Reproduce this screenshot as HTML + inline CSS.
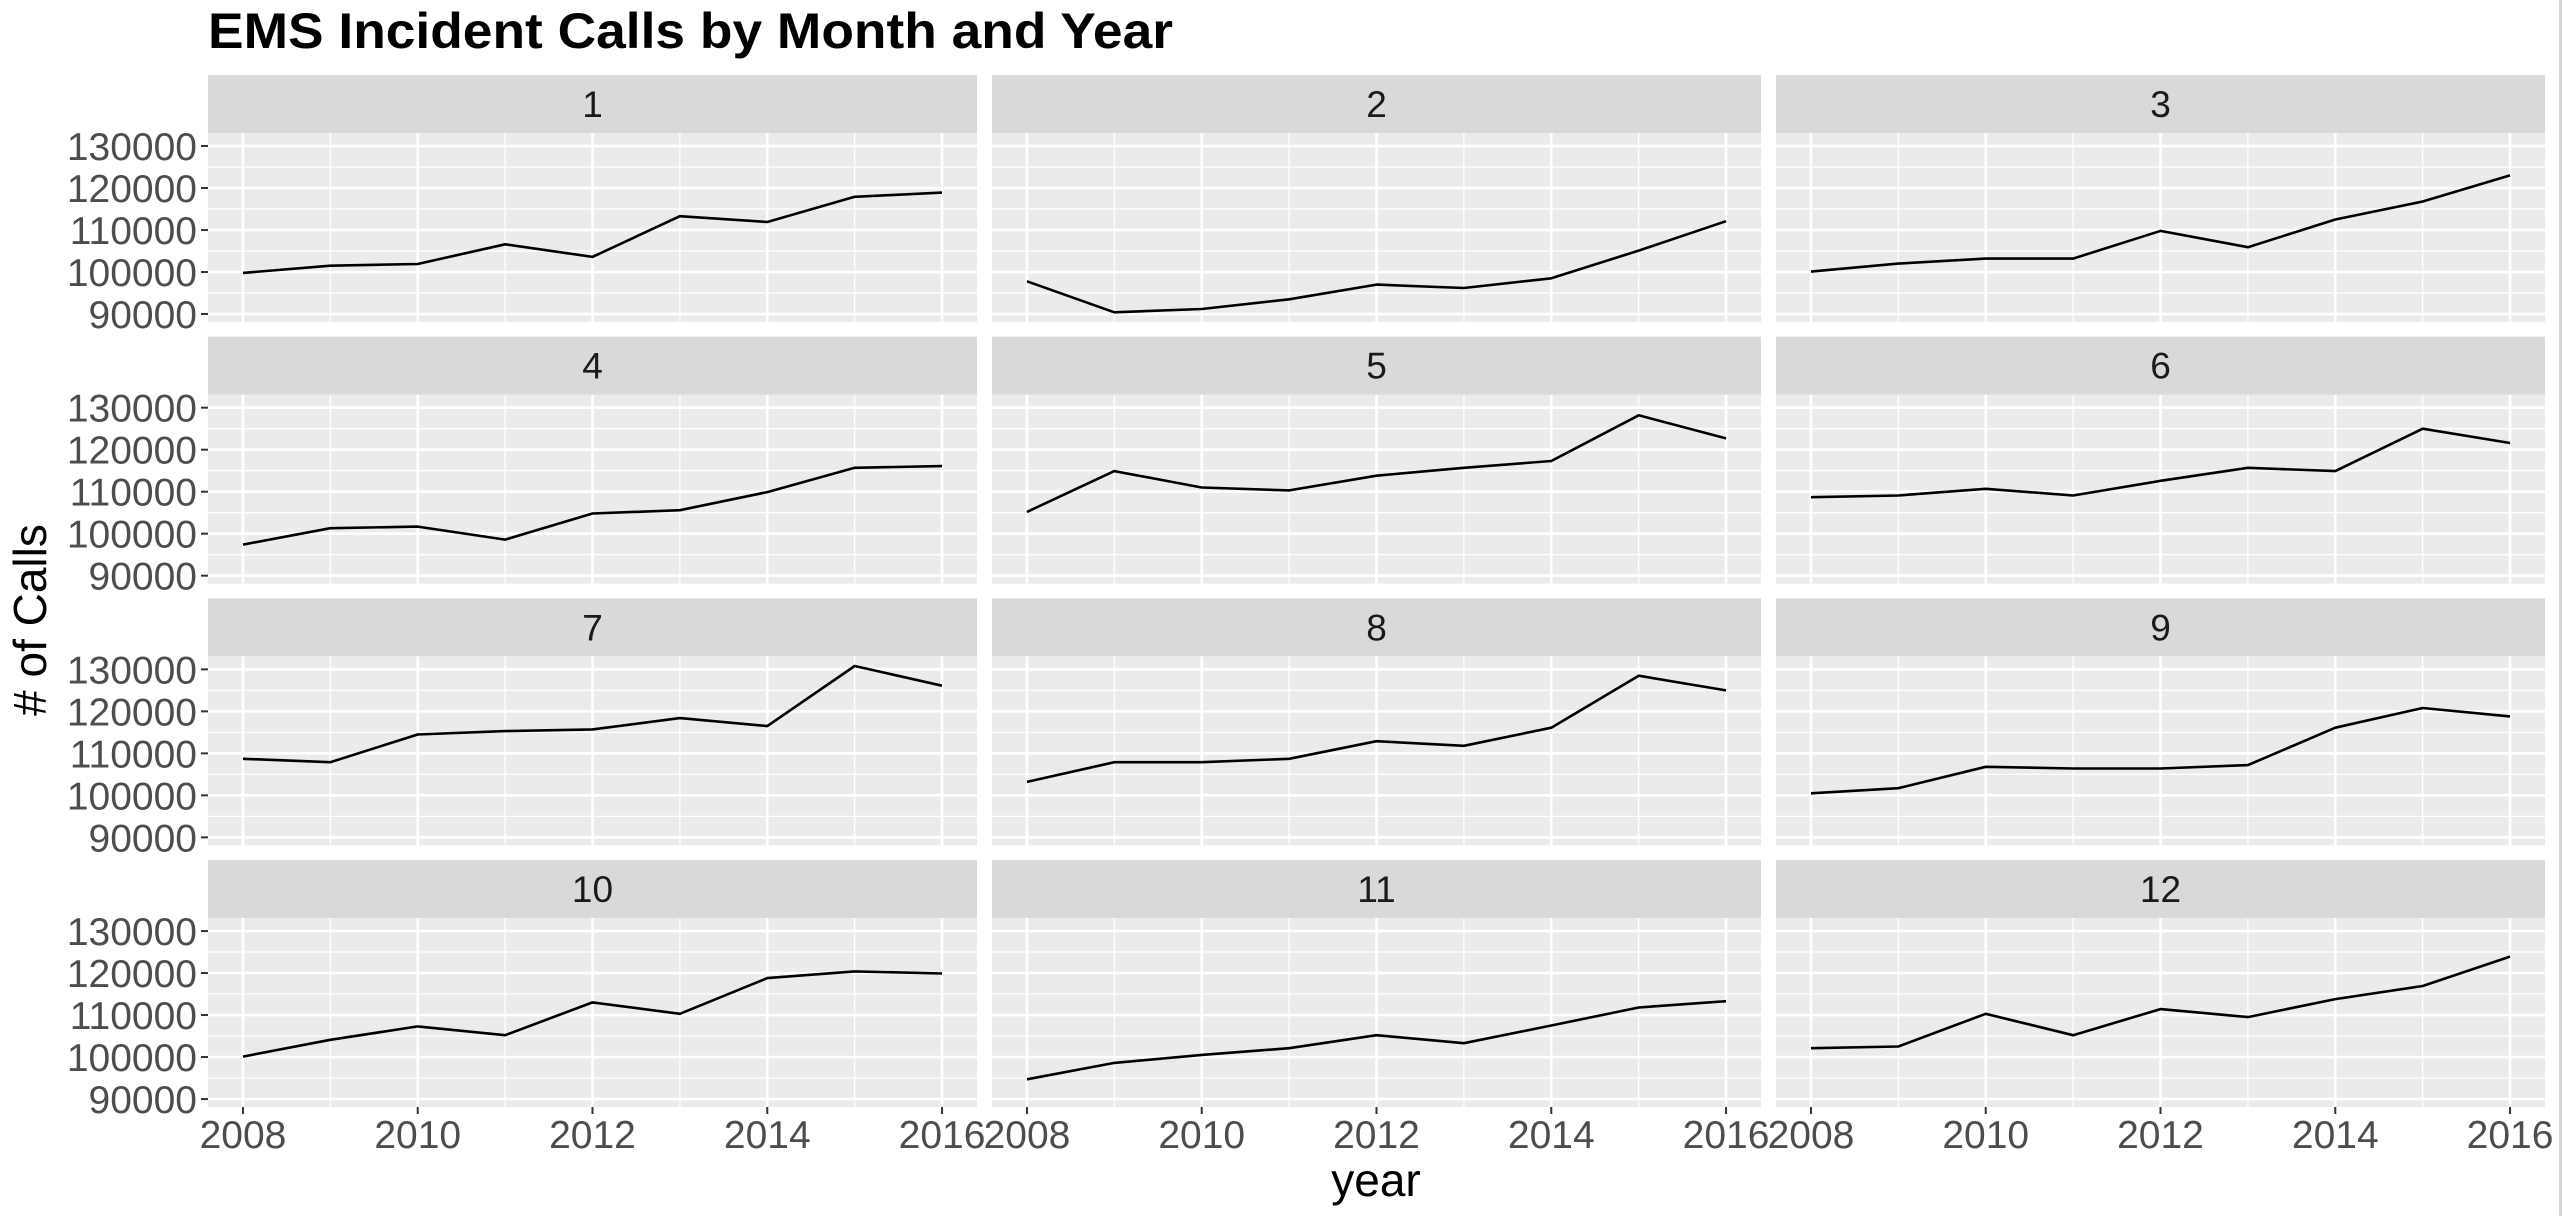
<!DOCTYPE html>
<html><head><meta charset="utf-8"><style>
html,body{margin:0;padding:0;background:#fff;}
svg{display:block;font-family:"Liberation Sans",Arial,sans-serif;}
</style></head><body>
<svg id="chart" width="2564" height="1216" viewBox="0 0 2564 1216" xmlns="http://www.w3.org/2000/svg">
<rect x="2559" y="0" width="3" height="1216" fill="#d3d6da"/>
<text x="208" y="48" font-size="50" font-weight="bold" fill="#000" textLength="965" lengthAdjust="spacingAndGlyphs">EMS Incident Calls by Month and Year</text>
<text x="1376" y="1196" font-size="46" text-anchor="middle" fill="#000">year</text>
<text transform="translate(46,620) rotate(-90)" font-size="46" text-anchor="middle" fill="#000"># of Calls</text>
<g id="panels"></g>
</svg>
<script>
const years = [2008,2009,2010,2011,2012,2013,2014,2015,2016];
const months = ["1","2","3","4","5","6","7","8","9","10","11","12"];
const m1 = [99800,101500,101900,106600,103600,113300,111900,117900,118900];
const m2 = [97800,90400,91200,93500,97000,96200,98500,105100,112100];
const m3 = [100100,102000,103200,103200,109800,105900,112500,116800,123000];
const m4 = [97400,101300,101700,98600,104800,105600,109900,115700,116100];
const m5 = [105200,114900,111000,110300,113800,115700,117300,128200,122700];
const m6 = [108700,109100,110700,109100,112600,115700,114900,125000,121600];
const m7 = [108700,107900,114500,115300,115700,118400,116500,130800,126100];
const m8 = [103200,107900,107900,108700,112900,111800,116100,128500,125000];
const m9 = [100500,101700,106800,106400,106400,107200,116100,120800,118800];
const m10 = [100100,104100,107300,105200,113000,110300,118800,120400,119900];
const m11 = [94700,98600,100500,102100,105200,103300,107500,111800,113300];
const m12 = [102100,102500,110300,105200,111400,109500,113800,116900,123900];
const series = [m1,m2,m3,m4,m5,m6,m7,m8,m9,m10,m11,m12];
const yTicks = [90000,100000,110000,120000,130000];
const yTickLabels = ["90000","100000","110000","120000","130000"];
const xTicks = [2008,2010,2012,2014,2016];
const xTickLabels = ["2008","2010","2012","2014","2016"];

const NS = "http://www.w3.org/2000/svg";
const g = document.getElementById("panels");
const PW = 769, GAPX = 15, X0 = 208, STRIP_TOP0 = 75, ROWP = 261.67, SH = 58, PH = 189;
const XMIN = 2007.6, XMAX = 2016.4, YMIN = 88100, YMAX = 133100;
function mk(tag, attrs){ const e = document.createElementNS(NS, tag); for (const k in attrs) e.setAttribute(k, attrs[k]); return e; }

series.forEach((vals, i) => {
  const col = i % 3, row = Math.floor(i / 3);
  const px = X0 + col * (PW + GAPX);
  const st = STRIP_TOP0 + row * ROWP;
  const py = st + SH;
  const sx = v => px + (v - XMIN) / (XMAX - XMIN) * PW;
  const sy = v => py + (YMAX - v) / (YMAX - YMIN) * PH;

  const strip = mk("rect", {x:px, y:st, width:PW, height:SH, fill:"#d9d9d9"});
  
  
  g.appendChild(strip);
  const stxt = mk("text", {x:px + PW/2, y:st + SH/2 + 13, "font-size":37, "text-anchor":"middle", fill:"#1a1a1a"});
  stxt.textContent = months[i];
  
  
  g.appendChild(stxt);

  const bg = mk("rect", {x:px, y:py, width:PW, height:PH, fill:"#ebebeb"});
  
  
  g.appendChild(bg);

  for (let k = 0; k < yTicks.length - 1; k++) {
    const v = (yTicks[k] + yTicks[k+1]) / 2;
    const l = mk("line", {x1:px, x2:px+PW, y1:sy(v), y2:sy(v), stroke:"#fff", "stroke-width":1.3});
    
    
    g.appendChild(l);
  }
  for (let k = 0; k < xTicks.length - 1; k++) {
    const v = (xTicks[k] + xTicks[k+1]) / 2;
    const l = mk("line", {x1:sx(v), x2:sx(v), y1:py, y2:py+PH, stroke:"#fff", "stroke-width":1.3});
    
    
    g.appendChild(l);
  }
  yTicks.forEach(v => {
    const l = mk("line", {x1:px, x2:px+PW, y1:sy(v), y2:sy(v), stroke:"#fff", "stroke-width":2.6});
    
    
    g.appendChild(l);
  });
  xTicks.forEach(v => {
    const l = mk("line", {x1:sx(v), x2:sx(v), y1:py, y2:py+PH, stroke:"#fff", "stroke-width":2.6});
    
    
    g.appendChild(l);
  });

  const pts = vals.map((v, k) => sx(years[k]).toFixed(1) + "," + sy(v).toFixed(1)).join(" ");
  const line = mk("polyline", {points:pts, fill:"none", stroke:"#000", "stroke-width":2.6, "stroke-linejoin":"round"});
  
  
  g.appendChild(line);

  if (col === 0) {
    yTicks.forEach((v, k) => {
      const t = mk("line", {x1:px-7, x2:px, y1:sy(v), y2:sy(v), stroke:"#333", "stroke-width":2});
      
      
      g.appendChild(t);
      const tx = mk("text", {x:px-11, y:sy(v)+14, "font-size":39, "text-anchor":"end", fill:"#4d4d4d"});
      tx.textContent = yTickLabels[k];
      
      
      g.appendChild(tx);
    });
  }
  if (row === 3) {
    xTicks.forEach((v, k) => {
      const t = mk("line", {x1:sx(v), x2:sx(v), y1:py+PH, y2:py+PH+7, stroke:"#333", "stroke-width":2});
      
      
      g.appendChild(t);
      const tx = mk("text", {x:sx(v), y:py+PH+41, "font-size":39, "text-anchor":"middle", fill:"#4d4d4d"});
      tx.textContent = xTickLabels[k];
      
      
      g.appendChild(tx);
    });
  }
});
</script>
</body></html>
